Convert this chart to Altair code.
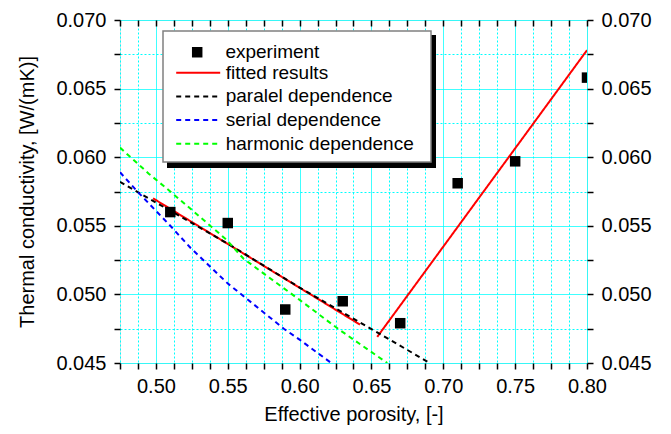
import altair as alt
import pandas as pd

# ---- data ----
point_name = ["experiment"]
line_names = ["fitted results", "paralel dependence",
              "serial dependence", "harmonic dependence"]
line_colors = ["#FF0000", "#000000", "#0000FF", "#00FF00"]
line_dashes = [[1, 0], [5, 4], [5, 4], [5, 4]]

exp_x = [0.51, 0.55, 0.59, 0.63, 0.67, 0.71, 0.75, 0.80]
exp_y = [0.0560, 0.0552, 0.0489, 0.0495, 0.0479, 0.0581, 0.0597, 0.0658]

fit1_x = [0.498, 0.642]
fit1_y = [0.0570, 0.0478]
fit2_x = [0.654, 0.800]
fit2_y = [0.0469, 0.0678]

par_x = [0.475, 0.550, 0.600, 0.689]
par_y = [0.0582, 0.0537, 0.0505, 0.0451]

ser_x = [0.475, 0.488, 0.510, 0.524, 0.550, 0.589, 0.600, 0.622]
ser_y = [0.0589, 0.0574, 0.0550, 0.0534, 0.0508, 0.0475, 0.0467, 0.0450]

har_x = [0.475, 0.495, 0.510, 0.549, 0.561, 0.600, 0.628, 0.661]
har_y = [0.0607, 0.0588, 0.0575, 0.0540, 0.0526, 0.0496, 0.0474, 0.0450]

x_domain = [0.475, 0.80]
y_domain = [0.045, 0.070]
x_ticks = [round(0.475 + 0.0125 * i, 4) for i in range(27)]
y_ticks = [round(0.045 + 0.0025 * i, 4) for i in range(11)]

# ---- tables ----
exp_df = pd.DataFrame({"x": exp_x, "y": exp_y, "series": "experiment"})


def part(xs, ys, name, seg):
    return pd.DataFrame({"x": xs, "y": ys, "series": name, "seg": seg})


lines_df = pd.concat([
    part(fit1_x, fit1_y, "fitted results", "f1"),
    part(fit2_x, fit2_y, "fitted results", "f2"),
    part(par_x, par_y, "paralel dependence", "p"),
    part(ser_x, ser_y, "serial dependence", "s"),
    part(har_x, har_y, "harmonic dependence", "h"),
], ignore_index=True)
dummy = pd.DataFrame({"a": [0]})

FONT = "Liberation Sans"
GRID = "#00FFFF"

xscale = alt.Scale(domain=x_domain, nice=False, zero=False)
yscale = alt.Scale(domain=y_domain, nice=False, zero=False)

x_major_test = "abs(datum.value*20 - round(datum.value*20)) < 1e-6"
y_major_test = "abs(datum.value*200 - round(datum.value*200)) < 1e-6"

leg_common = dict(orient="none", title=None, padding=0, labelFontSize=19,
                  labelFont=FONT, labelColor="black", labelLimit=400)
legend_pts = alt.Legend(legendX=67.7, legendY=22.75, symbolType="square",
                        symbolSize=110, symbolStrokeWidth=0, labelOffset=18.7,
                        **leg_common)
legend_lines = alt.Legend(legendX=66.2, legendY=40.7, symbolType="M-2,0H2",
                          symbolSize=484, symbolStrokeWidth=2, labelOffset=15.5,
                          rowPadding=1.7, **leg_common)

axis_common = dict(domain=False, tickColor="black", tickWidth=1.5, tickSize=6,
                   labelFont=FONT, labelFontSize=20, labelColor="black",
                   titleFont=FONT, titleFontSize=20, titleFontWeight="normal",
                   titleColor="black", labelOverlap=False, labelFlush=False)

x_bottom = alt.Axis(
    orient="bottom", values=x_ticks,
    labelExpr=f"{x_major_test} ? format(datum.value, '.2f') : ''",
    title="Effective porosity, [-]", titleY=57, titleBaseline="alphabetic",
    grid=True, gridColor=GRID, gridWidth=1,
    gridDash={"condition": {"test": x_major_test, "value": [1, 0]}, "value": [2, 2]},
    labelPadding=7, **axis_common)
y_left = alt.Axis(
    orient="left", values=y_ticks,
    labelExpr=f"{y_major_test} ? format(datum.value, '.3f') : ''",
    title="Thermal conductivity, [W/(mK)]", titleX=-93, titleBaseline="middle",
    grid=True, gridColor=GRID, gridWidth=1,
    gridDash={"condition": {"test": y_major_test, "value": [1, 0]}, "value": [2, 2]},
    labelPadding=8, **axis_common)
x_top = alt.Axis(orient="top", values=x_ticks, labels=False, title=None,
                 grid=False, offset=-6, **axis_common)
y_right = alt.Axis(
    orient="right", values=y_ticks,
    labelExpr=f"{y_major_test} ? format(datum.value, '.3f') : ''",
    title=None, grid=False, labelPadding=8, **axis_common)

lines = alt.Chart(lines_df).mark_line(strokeWidth=2, clip=True).encode(
    x=alt.X("x:Q", scale=xscale, axis=x_top),
    y=alt.Y("y:Q", scale=yscale, axis=y_right),
    stroke=alt.Stroke("series:N", scale=alt.Scale(domain=line_names, range=line_colors),
                      legend=legend_lines),
    strokeDash=alt.StrokeDash("series:N", scale=alt.Scale(domain=line_names, range=line_dashes),
                              legend=legend_lines),
    detail="seg:N",
)

shadow = alt.Chart(dummy).mark_rect(color="black").encode(
    x=alt.value(47), x2=alt.value(316), y=alt.value(15), y2=alt.value(148))
box = alt.Chart(dummy).mark_rect(fill="white", stroke="#808080", strokeWidth=1.5).encode(
    x=alt.value(43), x2=alt.value(311), y=alt.value(11), y2=alt.value(142))

points = alt.Chart(exp_df).mark_square(size=110, opacity=1, clip=True).encode(
    x=alt.X("x:Q", scale=xscale, axis=x_bottom),
    y=alt.Y("y:Q", scale=yscale, axis=y_left),
    fill=alt.Fill("series:N", scale=alt.Scale(domain=point_name, range=["#000000"]),
                  legend=legend_pts),
)

chart = alt.layer(
    lines, shadow, box, points
).resolve_axis(x="independent", y="independent").properties(
    width=467, height=343,
    autosize=alt.AutoSizeParams(type="none"),
    padding={"left": 112, "top": 12, "right": 76, "bottom": 63},
).configure_view(stroke="black", strokeWidth=2).configure(background="white")

chart.save("out.html", embed_options={"renderer": "svg", "actions": False})
